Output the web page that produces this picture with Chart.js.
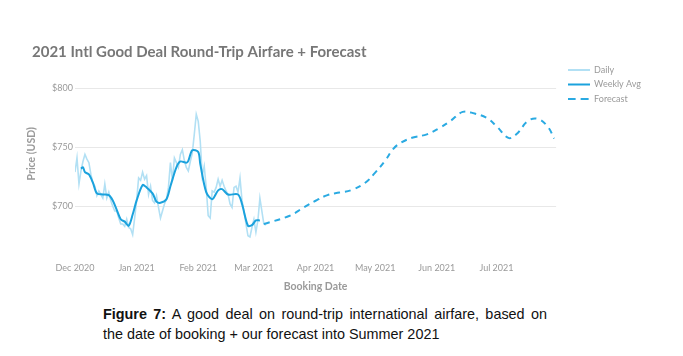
<!DOCTYPE html>
<html>
<head>
<meta charset="utf-8">
<script src="https://cdn.jsdelivr.net/npm/chart.js@4.4.1/dist/chart.umd.min.js"></script>
<style>
  html, body { margin: 0; padding: 0; background: #ffffff; }
  body { width: 683px; height: 356px; position: relative; overflow: hidden; }
  #wrap { position: absolute; left: 0; top: 0; width: 683px; height: 300px; }
  #caption {
    position: absolute; left: 103px; top: 304px; width: 444px;
    font-family: "Liberation Sans", Arial, sans-serif; font-size: 14.4px;
    line-height: 20px; color: #111;
  }
  #caption .l1 { text-align: justify; text-align-last: justify; white-space: nowrap; }
</style>
</head>
<body>
<div id="wrap"><canvas id="c" width="683" height="300"></canvas></div>
<div id="caption"><div class="l1"><b>Figure 7:</b> A good deal on round-trip international airfare, based on</div><div>the date of booking + our forecast into Summer 2021</div></div>
<script>
// ---- data (days counted from Dec 1, 2020) ----
const chartTitle = "2021 Intl Good Deal Round-Trip Airfare + Forecast";
const seriesNames = ["Daily", "Weekly Avg", "Forecast"];

const dailyPrices = [
  729, 741, 719, 730, 738, 744, 740, 737, 727, 720,
  717, 709, 713, 710, 707, 719, 707, 712, 705, 700,
  696, 696, 690, 685, 685, 683, 689, 682, 681, 676,
  690, 705, 724, 722, 729, 723, 726, 710, 717, 705,
  703, 709, 699, 690, 696, 702, 706, 716, 737, 722,
  741, 737, 733, 744, 748, 739, 733, 730, 738, 745,
  761, 778, 772, 755, 726, 734, 716, 692, 690, 713,
  712, 716, 723, 717, 722, 717, 713, 710, 702, 699,
  716, 717, 712, 724, 705, 696, 685, 675, 674, 682,
  689, 678, 688, 707, 696, 685, 684
];

const weeklyDays = [3, 4, 5, 7, 9, 11, 14, 17, 19, 21, 23, 25, 27, 29, 31, 34, 36, 39, 41, 43,
  46, 48, 51, 53, 56, 57, 59, 62, 63, 66, 69, 72, 74, 77, 82, 84, 87, 89, 91, 93];
const weeklyPrices = [732, 733, 729, 727, 720, 711, 710, 709.5, 705, 697, 689, 687, 683.5, 693, 705, 718, 716, 711, 704, 703,
  706, 717, 733, 738, 737, 738.5, 747.5, 746, 736, 712, 706, 713.5, 714.5, 710, 710, 702, 683.5, 684, 688, 688];

const forecastDays = [95, 108, 115, 121, 127, 133, 139, 146, 151, 156, 160, 164, 170, 177, 183, 189, 195, 201, 207, 212, 218, 222, 228, 233, 238, 241];
const forecastPrices = [685, 692, 699, 704.7, 709.5, 711.7, 713.7, 720, 728.6, 738.6, 748.5, 754, 758.3, 761, 766, 772.5, 780, 778.6, 775, 768, 758, 761, 772.5, 774, 767, 757.5];

const monthTickDays = [0, 31, 62, 90, 121, 151, 182, 212];
const monthTickLabels = ["Dec 2020", "Jan 2021", "Feb 2021", "Mar 2021", "Apr 2021", "May 2021", "Jun 2021", "Jul 2021"];
const priceTicks = [700, 750, 800];

// ---- styling ----
const grey = "#9a9a9a";
const fontFamily = "Lato, 'Open Sans', sans-serif";
const tickFont = { family: fontFamily, size: 9 };
const axisTitleFont = { family: fontFamily, size: 10.5, weight: "bold", lineHeight: 1.2 };
const seriesColors = ["#b2e0f4", "#1ba2dd", "#2aaae2"];
const seriesWidths = [1.6, 2, 2];
const seriesDashes = [[], [], [6, 5]];

// small legend glyphs (a line sample, dashed for the forecast)
function legendGlyph(color, dash) {
  const c = document.createElement("canvas");
  c.width = 22; c.height = 4;
  const g = c.getContext("2d");
  g.strokeStyle = color; g.lineWidth = 2; g.setLineDash(dash);
  g.beginPath(); g.moveTo(0, 2); g.lineTo(22, 2); g.stroke();
  return c;
}
const legendGlyphs = [
  legendGlyph(seriesColors[0], []),
  legendGlyph(seriesColors[1], []),
  legendGlyph(seriesColors[2], [8, 5])
];

const legendShift = {
  id: "legendShift",
  afterLayout(chart) { if (chart.legend) { chart.legend.left += 6; } }
};

new Chart(document.getElementById("c"), {
  type: "line",
  data: {
    datasets: [
      {
        label: seriesNames[0],
        data: dailyPrices.map((v, i) => ({ x: i, y: v })),
        borderColor: seriesColors[0],
        backgroundColor: seriesColors[0],
        borderWidth: seriesWidths[0],
        pointRadius: 0,
        tension: 0,
        order: 2
      },
      {
        label: seriesNames[1],
        data: weeklyDays.map((d, i) => ({ x: d, y: weeklyPrices[i] })),
        borderColor: seriesColors[1],
        backgroundColor: seriesColors[1],
        borderWidth: seriesWidths[1],
        pointRadius: 0,
        tension: 0.3,
        order: 0
      },
      {
        label: seriesNames[2],
        data: forecastDays.map((d, i) => ({ x: d, y: forecastPrices[i] })),
        borderColor: seriesColors[2],
        backgroundColor: seriesColors[2],
        borderWidth: seriesWidths[2],
        borderDash: seriesDashes[2],
        pointRadius: 0,
        tension: 0.4,
        order: 1
      }
    ]
  },
  options: {
    responsive: false,
    devicePixelRatio: 1,
    animation: false,
    layout: { padding: { left: 32, right: 38, top: 0, bottom: 3 } },
    plugins: {
      title: {
        display: true,
        text: chartTitle,
        align: "start",
        color: "#777777",
        font: { family: fontFamily, size: 15, weight: "bold", lineHeight: 1.2 },
        padding: { top: 43, bottom: -1 }
      },
      legend: {
        position: "right",
        align: "start",
        fullSize: false,
        labels: {
          sort: (a, b) => a.datasetIndex - b.datasetIndex,
          generateLabels: (chart) => {
            const items = Chart.defaults.plugins.legend.labels.generateLabels(chart);
            items.forEach(it => { it.pointStyle = legendGlyphs[it.datasetIndex]; });
            return items;
          },
          usePointStyle: true,
          pointStyleWidth: 22,
          boxHeight: 9,
          padding: 5.5,
          color: grey,
          font: tickFont
        }
      },
      tooltip: { enabled: false }
    },
    scales: {
      x: {
        type: "linear",
        min: 0,
        max: 242,
        grid: { display: false, drawTicks: false },
        border: { display: false },
        afterBuildTicks: (scale) => { scale.ticks = monthTickDays.map(v => ({ value: v })); },
        ticks: {
          autoSkip: false,
          maxRotation: 0,
          padding: 15,
          color: grey,
          font: tickFont,
          callback: (value) => monthTickLabels[monthTickDays.indexOf(value)]
        },
        title: {
          display: true,
          text: "Booking Date",
          color: grey,
          font: axisTitleFont,
          padding: { top: -8, bottom: 4 }
        }
      },
      y: {
        min: 665,
        max: 824,
        grid: { color: "#e8e8e8", lineWidth: 1, drawTicks: false },
        border: { display: false },
        afterBuildTicks: (scale) => { scale.ticks = priceTicks.map(v => ({ value: v })); },
        afterFit: (scale) => { scale.width = 43; },
        ticks: {
          padding: 2,
          color: grey,
          font: tickFont,
          callback: (value) => "$" + value
        },
        title: {
          display: true,
          text: "Price (USD)",
          color: grey,
          font: axisTitleFont,
          padding: { top: -6.6, bottom: 4 }
        }
      }
    }
  },
  plugins: [legendShift]
});
</script>
</body>
</html>
